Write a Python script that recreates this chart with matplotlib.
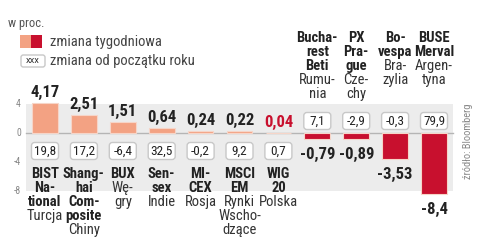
import matplotlib
matplotlib.use("Agg")
import matplotlib.pyplot as plt
from matplotlib import font_manager
from matplotlib.patches import FancyBboxPatch, Rectangle

# data (w proc.)
indices = ["BIST National", "Shanghai Composite", "BUX", "Sensex", "MICEX", "MSCI EM",
           "WIG 20", "Bucharest Beti", "PX Prague", "Bovespa", "BUSE Merval"]
weekly = [4.17, 2.51, 1.51, 0.64, 0.24, 0.22, 0.04, -0.79, -0.89, -3.53, -8.4]
ytd = [19.8, 17.2, -6.4, 32.5, -0.2, 9.2, 0.7, 7.1, -2.9, -0.3, 79.9]
name_lines = [["BIST", "Na-", "tional"], ["Shang-", "hai", "Com-", "posite"], ["BUX"],
              ["Sen-", "sex"], ["MI-", "CEX"], ["MSCI", "EM"], ["WIG", "20"],
              ["Bucha-", "rest", "Beti"], ["PX", "Pra-", "gue"], ["Bo-", "vespa"],
              ["BUSE", "Merval"]]
country_lines = [["Turcja"], ["Chiny"], ["Wę-", "gry"], ["Indie"], ["Rosja"],
                 ["Rynki", "Wscho-", "dzące"], ["Polska"], ["Rumu-", "nia"],
                 ["Cze-", "chy"], ["Bra-", "zylia"], ["Argen-", "tyna"]]
yticks = [4, 0, -4, -8]
highlight = "WIG 20"

names = set(f.name for f in font_manager.fontManager.ttflist)
FONT = "DejaVu Sans"
for cand in ["Roboto Condensed", "Fira Sans Condensed", "Barlow Semi Condensed",
             "Asap Condensed", "Archivo Narrow"]:
    if cand in names:
        FONT = cand
        break
plt.rcParams['font.family'] = [FONT, 'DejaVu Sans']

POS = "#f3a283"
NEG = "#c8102e"
GRAY_BG = "#ececec"
TXT = "#222222"

# pixel layout
W, H = 485, 246
ZERO_PX = 133
KY = 7.25        # px per unit
X0, DX = 45, 38.9


def px_y(p):
    return (ZERO_PX - p) / KY


def px_x(p):
    return (p - X0) / DX


def fmt(v):
    return str(v).replace('.', ',')


fig = plt.figure(figsize=(W / 100, H / 100), dpi=100)
ax = fig.add_axes([0, 0, 1, 1])
ax.set_xlim(px_x(0), px_x(W))
ax.set_ylim(px_y(H), px_y(0))
ax.axis('off')

# gray band and zero line
ax.add_patch(Rectangle((px_x(26), yticks[-1]), px_x(453) - px_x(26), yticks[0] - yticks[-1],
                       facecolor=GRAY_BG, edgecolor='none', zorder=0))
ax.plot([px_x(26), px_x(453)], [0, 0], color="#b5b5b5", lw=1, zorder=1)
for t in yticks:
    ax.text(px_x(21), t, str(t), ha='right', va='center', fontsize=7, color="#888888")

n = len(indices)
xs = list(range(n))
colors = [NEG if (v < 0 or nm == highlight) else POS for v, nm in zip(weekly, indices)]
ax.bar(xs, weekly, width=0.66, color=colors, edgecolor="#f6d5c8", linewidth=0.8, zorder=2)

aspect = DX / KY
box_w = 27 / DX
box_h = 17 / KY
for i, (v, y, nm) in enumerate(zip(weekly, ytd, indices)):
    c = NEG if nm == highlight else TXT
    if v >= 0:
        ax.text(i, v + 3 / KY, fmt(v), ha='center', va='bottom', fontsize=12,
                fontweight='bold', color=c, zorder=4)
        by = px_y(151)
    else:
        ax.text(i, v - 8 / KY, fmt(v), ha='center', va='top', fontsize=12,
                fontweight='bold', color=c, zorder=4)
        by = px_y(121)
    ax.add_patch(FancyBboxPatch((i - box_w / 2, by - box_h / 2), box_w, box_h,
                                boxstyle="round,pad=0,rounding_size=0.08",
                                mutation_aspect=aspect, facecolor='white',
                                edgecolor="#c8c8c8", linewidth=1, zorder=3))
    ax.text(i, by, fmt(y), ha='center', va='center', fontsize=9.5, color=TXT, zorder=4)

    base = 178 if v >= 0 else 42
    k = 0
    for line in name_lines[i]:
        ax.text(i, px_y(base + 14 * k), line, ha='center', va='baseline', fontsize=10.5,
                fontweight='bold', color=TXT)
        k += 1
    for line in country_lines[i]:
        ax.text(i, px_y(base + 14 * k), line, ha='center', va='baseline', fontsize=10.5,
                color="#333333")
        k += 1

# legend
ax.text(px_x(8), px_y(23), "w proc.", ha='left', va='center', fontsize=9, color="#555555")
ax.add_patch(Rectangle((px_x(20), px_y(48)), px_x(31) - px_x(20), 13 / KY,
                       facecolor=POS, edgecolor='none'))
ax.add_patch(Rectangle((px_x(31), px_y(48)), px_x(42) - px_x(31), 13 / KY,
                       facecolor=NEG, edgecolor='none'))
ax.text(px_x(50), px_y(42), "zmiana tygodniowa", ha='left', va='center', fontsize=10.5,
        color="#444444")
ax.add_patch(FancyBboxPatch((px_x(21), px_y(67)), px_x(45) - px_x(21), 12 / KY,
                            boxstyle="round,pad=0,rounding_size=0.06",
                            mutation_aspect=aspect, facecolor='white',
                            edgecolor="#c8c8c8", linewidth=1))
ax.text(px_x(33), px_y(61), "XXX", ha='center', va='center', fontsize=6, color=TXT)
ax.text(px_x(50), px_y(61), "zmiana od początku roku", ha='left', va='center', fontsize=10.5,
        color="#444444")

ax.text(px_x(468), px_y(141), "źródło: Bloomberg", rotation=90, ha='center', va='center',
        fontsize=7.5, color="#888888")

fig.savefig("out.png", dpi=100)
